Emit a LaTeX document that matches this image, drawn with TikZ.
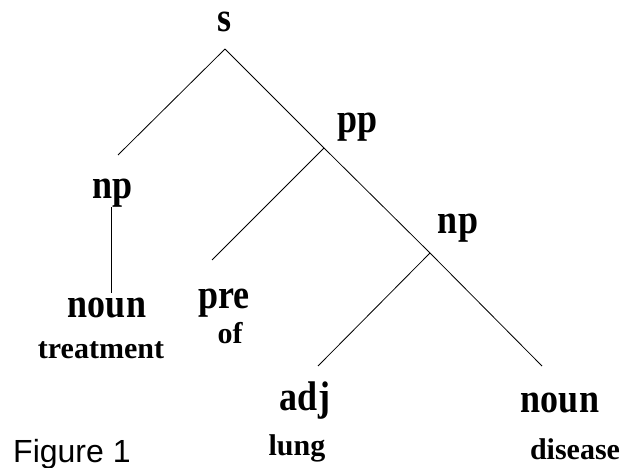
\documentclass[tikz,border=0pt]{standalone}
\usepackage{fontspec}
\usepackage{graphicx}
\setmainfont{Liberation Serif}
\newfontfamily\figfont{Liberation Sans}
\newcommand{\tallcat}[1]{\scalebox{1}[1.15]{#1}}

\tikzset{
    cat/.style={anchor=base, inner sep=0pt, font=\bfseries\fontsize{36}{36}\selectfont},
    word/.style={anchor=base, inner sep=0pt, font=\bfseries\fontsize{30}{30}\selectfont},
    branch/.style={line width=0.8pt}
}

\begin{document}
\begin{tikzpicture}[x=1pt, y=-1pt]
    \useasboundingbox (0,0) rectangle (629,468);

    % categories
    \node[cat] (s) at (225,32) {\tallcat{s}};
    \node[cat] (pp) at (358,133) {\tallcat{pp}};
    \node[cat] (np1) at (113,198) {\tallcat{np}};
    \node[cat] (np2) at (458,233) {\tallcat{np}};
    \node[cat] (noun1) at (107,317) {\tallcat{noun}};
    \node[cat] (pre) at (224,308) {\tallcat{pre}};
    \node[cat] (adj) at (305,410) {\tallcat{adj}};
    \node[cat] (noun2) at (560,412) {\tallcat{noun}};

    % words
    \node[word] (treatment) at (101,358) {treatment};
    \node[word] (of) at (230,343) {of};
    \node[word] (lung) at (297,455) {lung};
    \node[word] (disease) at (575,459) {disease};

    \node[anchor=base west, inner sep=0pt, font=\figfont\fontsize{32}{32}\selectfont] (fig) at (13,462) {Figure 1};

    % joints of the tree
    \coordinate (s-top) at (225,49);
    \coordinate (np1-end) at (118,155);
    \coordinate (pp-top) at (324,148);
    \coordinate (np2-top) at (430,253);
    \coordinate (noun2-end) at (542,366);
    \coordinate (pre-end) at (212,260);
    \coordinate (adj-end) at (318,366);
    \coordinate (np1-top) at (111,207);
    \coordinate (noun1-end) at (111,293);

    \draw[branch] (s-top) -- (np1-end);
    \draw[branch] (s-top) -- (pp-top) -- (np2-top) -- (noun2-end);
    \draw[branch] (pp-top) -- (pre-end);
    \draw[branch] (np2-top) -- (adj-end);
    \draw[branch] (np1-top) -- (noun1-end);
\end{tikzpicture}
\end{document}
